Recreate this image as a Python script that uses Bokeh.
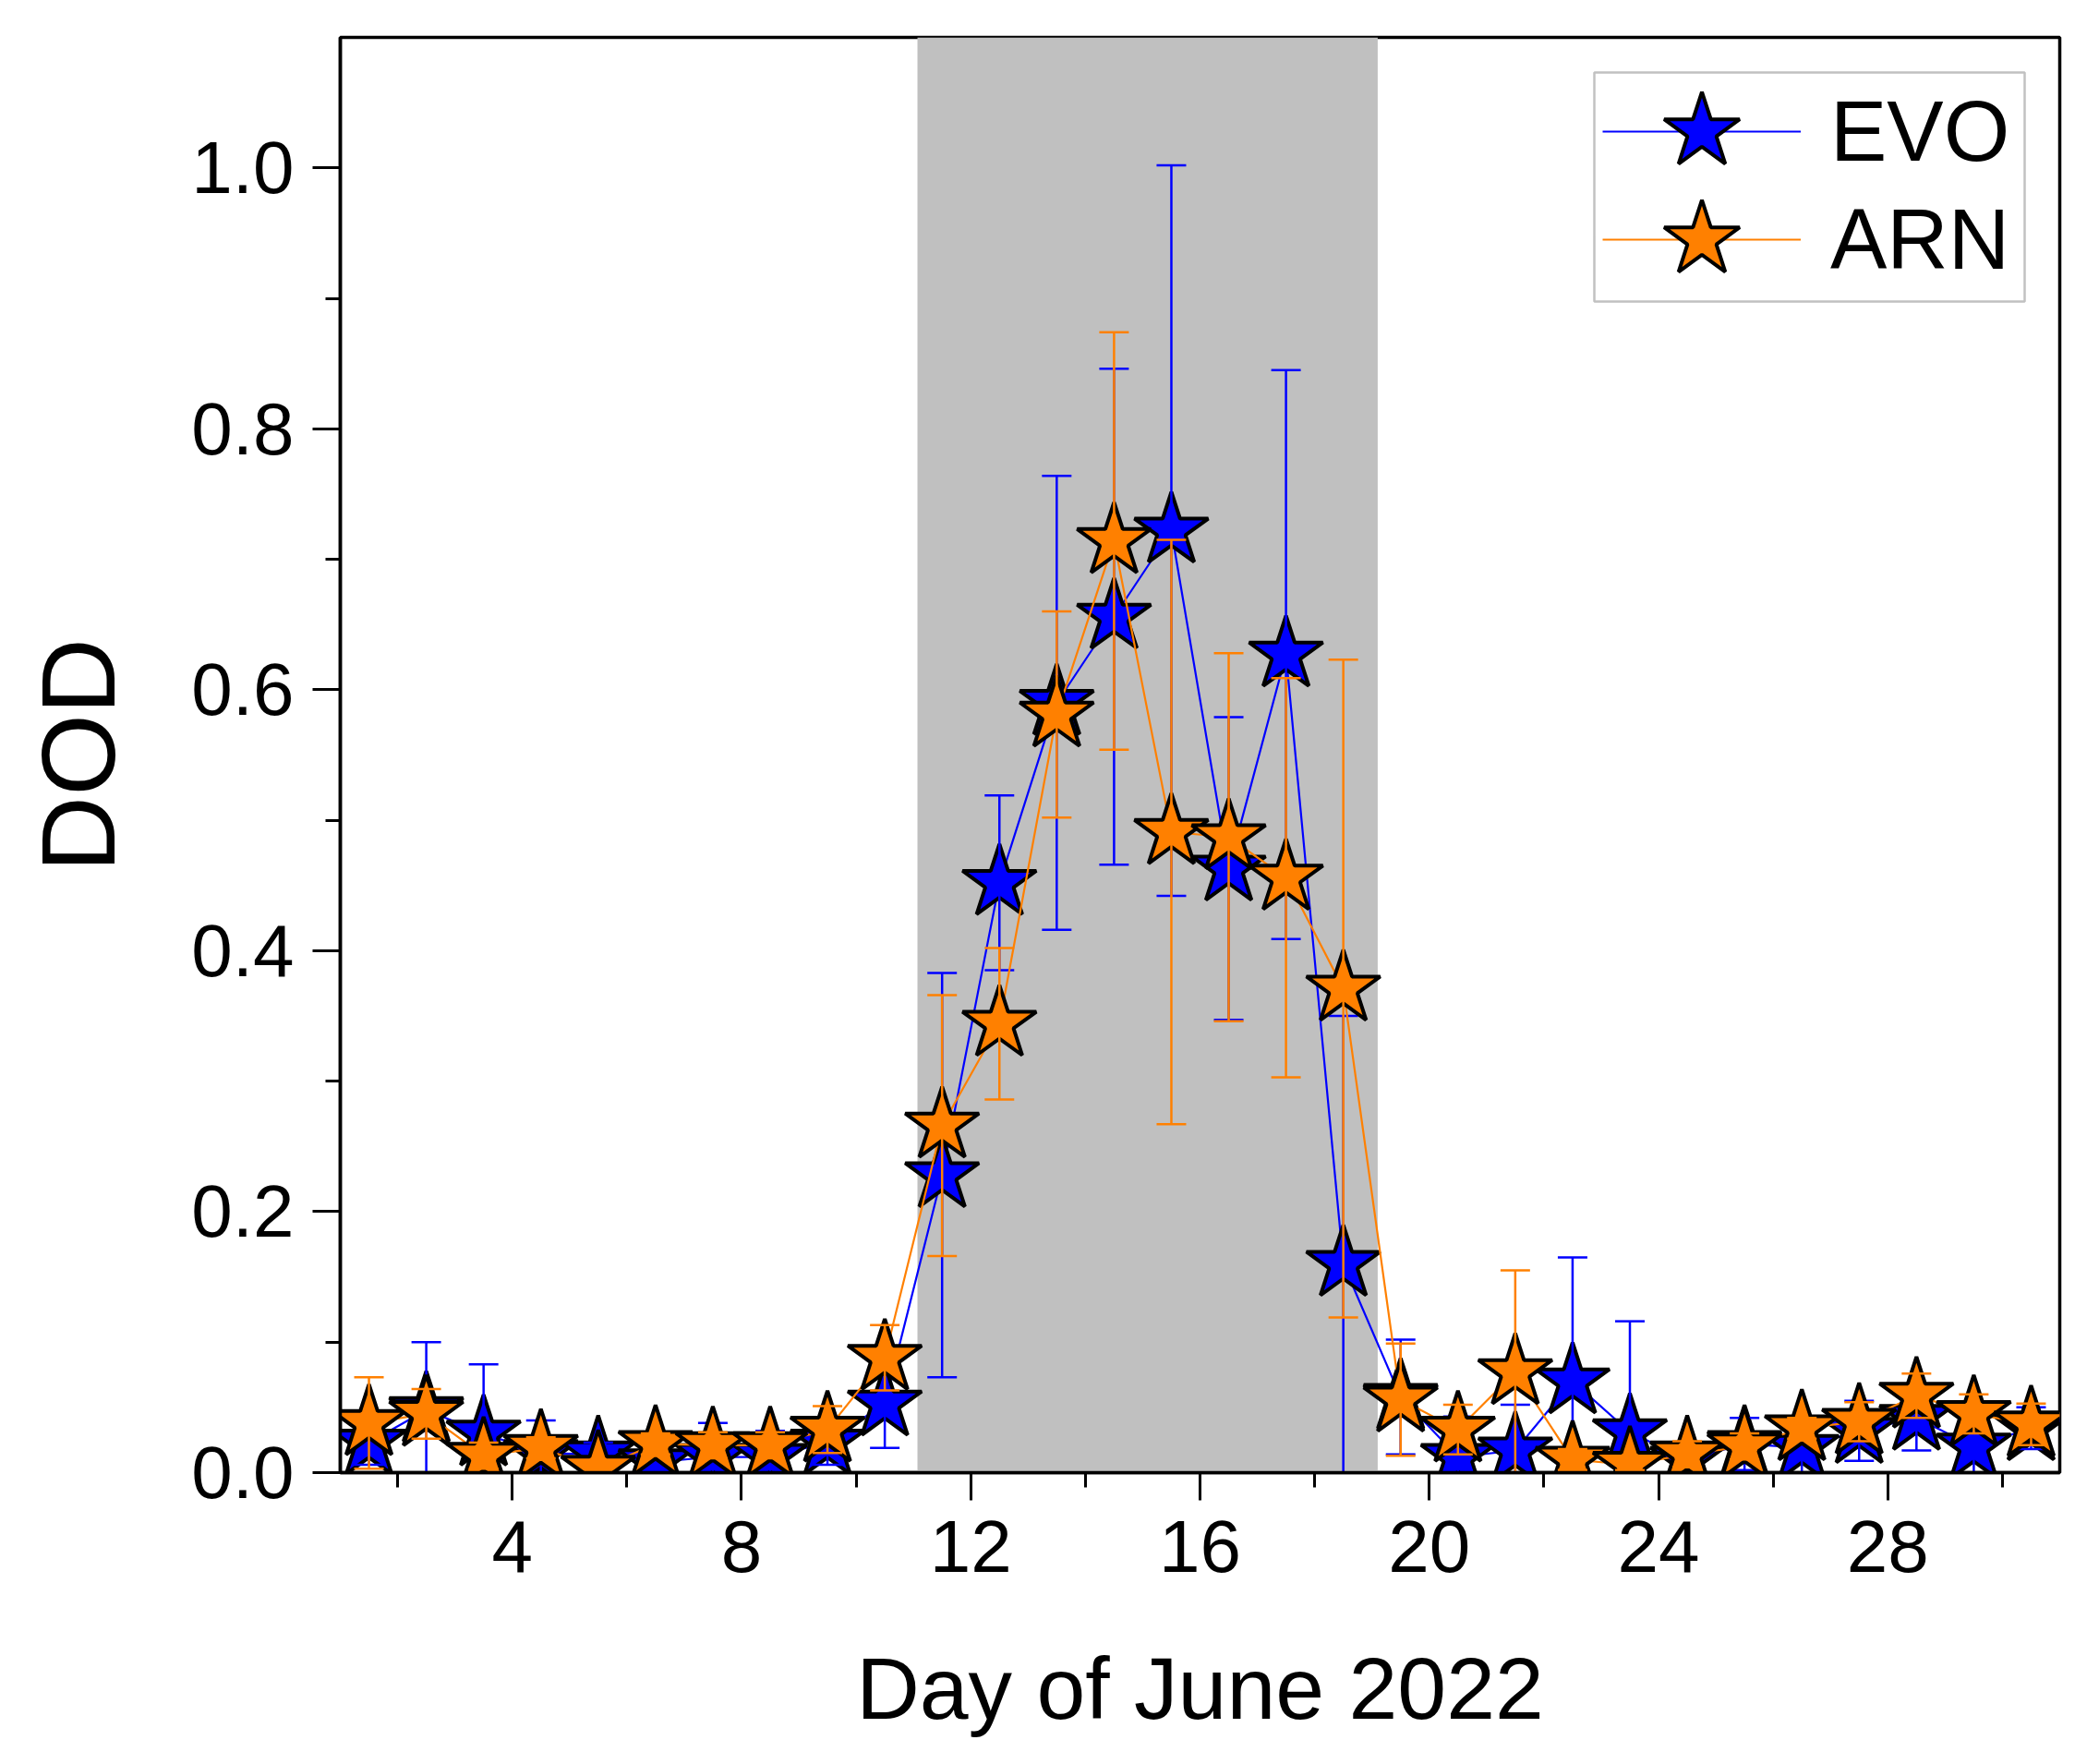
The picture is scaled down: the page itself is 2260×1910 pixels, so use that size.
from bokeh.plotting import figure
from bokeh.models import (ColumnDataSource, FixedTicker, NumeralTickFormatter,
                          BoxAnnotation, Legend, LegendItem, Range1d)
from bokeh.embed import file_html
from bokeh.resources import INLINE

# ---------------- data ----------------
DAYS = [1.5, 2.5, 3.5, 4.5, 5.5, 6.5, 7.5, 8.5, 9.5, 10.5,
        11.5, 12.5, 13.5, 14.5, 15.5, 16.5, 17.5, 18.5, 19.5, 20.5,
        21.5, 22.5, 23.5, 24.5, 25.5, 26.5, 27.5, 28.5, 29.5, 30.5]

EVO = [0.023, 0.048, 0.030, 0.015, 0.014, 0.008, 0.012, 0.012, 0.023, 0.053,
       0.228, 0.452, 0.590, 0.656, 0.722, 0.463, 0.627, 0.160, 0.058, 0.012,
       0.017, 0.070, 0.031, 0.010, 0.022, 0.019, 0.032, 0.042, 0.020, 0.034]
EVO_ERR = [0.017, 0.052, 0.053, 0.025, 0.009, 0.008, 0.026, 0.020, 0.017, 0.034,
           0.155, 0.067, 0.174, 0.190, 0.280, 0.116, 0.218, 0.190, 0.044, 0.031,
           0.035, 0.095, 0.085, 0.004, 0.020, 0.020, 0.023, 0.025, 0.021, 0.016]

ARN = [0.038, 0.045, 0.013, 0.019, 0.003, 0.022, 0.021, 0.021, 0.033, 0.088,
       0.266, 0.344, 0.581, 0.714, 0.491, 0.487, 0.456, 0.371, 0.056, 0.033,
       0.077, 0.010, 0.006, 0.014, 0.020, 0.034, 0.039, 0.059, 0.045, 0.037]
ARN_ERR = [0.035, 0.019, 0.010, 0.008, 0.004, 0.008, 0.010, 0.010, 0.018, 0.025,
           0.100, 0.058, 0.079, 0.160, 0.224, 0.141, 0.153, 0.252, 0.043, 0.019,
           0.078, 0.008, 0.004, 0.010, 0.010, 0.008, 0.015, 0.017, 0.015, 0.016]

SERIES = ["EVO", "ARN"]
COLORS = ["#0000ff", "#ff8000"]

X_TITLE = "Day of June 2022"
Y_TITLE = "DOD"
X_TICKS = [4, 8, 12, 16, 20, 24, 28]
X_MINOR = [2, 6, 10, 14, 18, 22, 26, 30]
Y_TICKS = [0.0, 0.2, 0.4, 0.6, 0.8, 1.0]
Y_MINOR = [0.1, 0.3, 0.5, 0.7, 0.9]
X_LIM = (1, 31)
Y_LIM = (0, 1.1)
SHADE_START, SHADE_END = 11.07, 19.1

FONT = "Liberation Sans"

# ---------------- figure ----------------
p = figure(width=2244, height=1894,
           x_range=Range1d(*X_LIM), y_range=Range1d(*Y_LIM),
           output_backend="svg", toolbar_location=None,
           min_border_left=368, min_border_right=14,
           min_border_top=40, min_border_bottom=300)
p.xgrid.visible = False
p.ygrid.visible = False
p.background_fill_color = "white"
p.border_fill_color = "white"
p.outline_line_color = "black"
p.outline_line_width = 3.5

p.add_layout(BoxAnnotation(left=SHADE_START, right=SHADE_END,
                           fill_color="#c0c0c0", fill_alpha=1.0,
                           line_alpha=0, level="underlay"))


def add_series(vals, errs, color):
    lo = [v - e for v, e in zip(vals, errs)]
    hi = [v + e for v, e in zip(vals, errs)]
    src = ColumnDataSource(dict(x=DAYS, y=vals, lo=lo, hi=hi))
    ln = p.line("x", "y", source=src, line_color=color, line_width=2.2)
    st = p.scatter("x", "y", source=src, marker="star", size=84,
                   fill_color=color, line_color="black", line_width=4)
    p.segment(x0="x", y0="lo", x1="x", y1="hi", source=src,
              line_color=color, line_width=2.5)
    p.scatter("x", "hi", source=src, marker="dash", size=32,
              line_color=color, line_width=2.5)
    p.scatter("x", "lo", source=src, marker="dash", size=32,
              line_color=color, line_width=2.5)
    return ln, st


r_evo = add_series(EVO, EVO_ERR, COLORS[0])
r_arn = add_series(ARN, ARN_ERR, COLORS[1])

# ---------------- axes ----------------
p.xaxis.ticker = FixedTicker(ticks=X_TICKS, minor_ticks=X_MINOR)
p.yaxis.ticker = FixedTicker(ticks=Y_TICKS, minor_ticks=Y_MINOR)
p.yaxis.formatter = NumeralTickFormatter(format="0.0")

for ax in (p.xaxis[0], p.yaxis[0]):
    ax.axis_line_width = 3.5
    ax.axis_line_color = "black"
    ax.major_tick_line_width = 3
    ax.minor_tick_line_width = 3
    ax.major_tick_line_color = "black"
    ax.minor_tick_line_color = "black"
    ax.major_tick_in = 0
    ax.minor_tick_in = 0
    ax.major_tick_out = 30
    ax.minor_tick_out = 16
    ax.major_label_text_font = FONT
    ax.major_label_text_font_size = "80px"
    ax.major_label_text_color = "black"
    ax.axis_label_text_font = FONT
    ax.axis_label_text_font_style = "normal"
    ax.axis_label_text_color = "black"

p.xaxis.axis_label = X_TITLE
p.xaxis.axis_label_text_font_size = "95px"
p.xaxis.axis_label_standoff = 70
p.xaxis.major_label_standoff = 22

p.yaxis.axis_label = Y_TITLE
p.yaxis.axis_label_text_font_size = "114px"
p.yaxis.axis_label_standoff = 56
p.yaxis.major_label_standoff = 20

# ---------------- legend (one entry per box row) ----------------
common = dict(orientation="vertical", glyph_width=215, glyph_height=220,
              label_height=220, padding=0, margin=0, label_standoff=32,
              label_text_font=FONT, label_text_font_size="92px",
              label_text_color="black", border_line_alpha=0,
              background_fill_alpha=0)
leg_evo = Legend(items=[LegendItem(label=SERIES[0], renderers=list(r_evo))],
                 location=(1367, 1342), **common)
leg_arn = Legend(items=[LegendItem(label=SERIES[1], renderers=list(r_arn))],
                 location=(1367, 1225), **common)
p.add_layout(leg_evo)
p.add_layout(leg_arn)

p.add_layout(BoxAnnotation(left=1358, right=1824, top=1516, bottom=1268,
                           left_units="screen", right_units="screen",
                           top_units="screen", bottom_units="screen",
                           fill_alpha=0, line_color="#333333", line_width=2.5))

with open("out.html", "w") as f:
    f.write(file_html(p, INLINE))
